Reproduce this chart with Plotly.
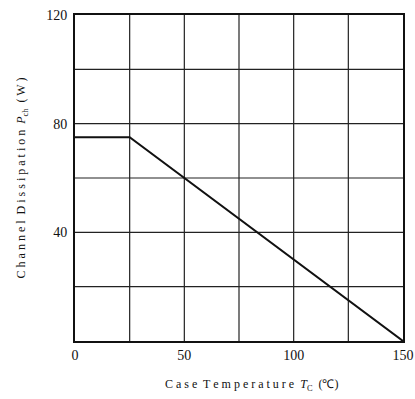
import plotly.graph_objects as go

# Data: derating curve
case_temp = [0, 25, 150]          # Tc (°C)
dissipation = [75, 75, 0]         # Pch (W)

x_tickvals = [0, 50, 100, 150]
y_tickvals = [40, 80, 120]

fig = go.Figure()
fig.add_trace(go.Scatter(
    x=case_temp, y=dissipation, mode="lines",
    line=dict(color="#111111", width=2), showlegend=False,
    hoverinfo="skip",
))

font_family = "Liberation Serif"

fig.update_layout(
    width=415, height=399,
    margin=dict(l=75, r=12, t=15, b=58),
    paper_bgcolor="white", plot_bgcolor="white",
    font=dict(family=font_family, color="#111111", size=14),
)
fig.update_xaxes(
    range=[0, 150], automargin=False,
    tickmode="array", tickvals=x_tickvals, ticktext=[str(v) for v in x_tickvals],
    showgrid=False, zeroline=False,
    showline=True, linecolor="#111111", linewidth=2, mirror=True,
    ticks="", ticklabeloverflow="allow",
)
fig.update_yaxes(
    range=[0, 120], automargin=False,
    tickmode="array", tickvals=y_tickvals, ticktext=[str(v) for v in y_tickvals],
    showgrid=False, zeroline=False,
    showline=True, linecolor="#111111", linewidth=2, mirror=True,
    ticks="", ticklabelstandoff=3, ticklabeloverflow="allow",
    title=dict(text="C h a n n e l  D i s s i p a t i o n  <i>P</i><sub>ch</sub>  ( W )",
               font=dict(size=12), standoff=18),
)

fig.add_annotation(
    text="C a s e  T e m p e r a t u r e  <i>T</i><sub>C</sub>  (℃)",
    xref="paper", yref="paper", x=0.537, y=0, xanchor="center", yanchor="middle",
    yshift=-44, showarrow=False, font=dict(size=12),
)

# Grid lines drawn via shapes referencing the data axes
for gx in range(25, 150, 25):
    fig.add_shape(type="line", xref="x", yref="y", x0=gx, x1=gx, y0=0, y1=120,
                  line=dict(color="#222222", width=1.2), layer="below")
for gy in range(20, 120, 20):
    fig.add_shape(type="line", xref="x", yref="y", x0=0, x1=150, y0=gy, y1=gy,
                  line=dict(color="#222222", width=1.2), layer="below")

fig.write_html("out.html",
               config={"displayModeBar": False},
               post_script="document.body.style.margin='0';document.body.style.overflow='hidden';")
